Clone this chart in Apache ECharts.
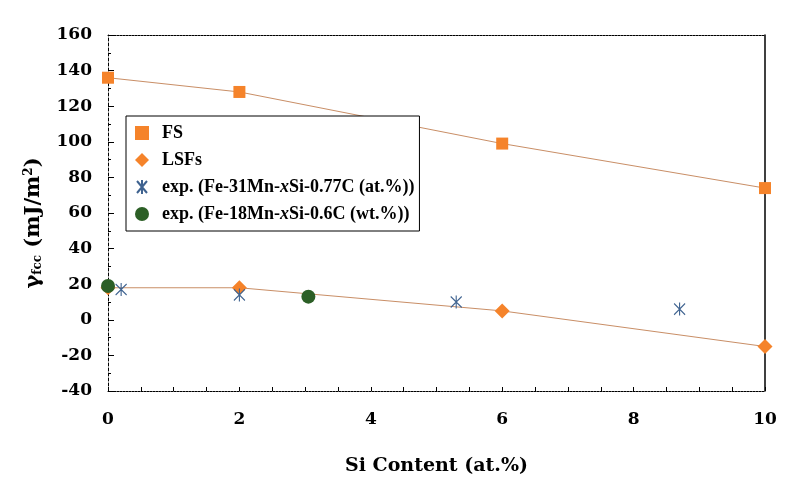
<!DOCTYPE html>
<html>
<head>
<meta charset="utf-8">
<script src="https://cdn.jsdelivr.net/npm/echarts@6/dist/echarts.min.js"></script>
<style>html,body{margin:0;padding:0;background:#fff}#c{width:787px;height:485px}</style>
</head>
<body>
<div id="c"></div>
<script>
const fsX = [0, 2, 6, 10];
const fsY = [136, 128, 99, 74];
const lsfX = [0, 2, 6, 10];
const lsfY = [18, 18, 5, -15];
const exp1X = [0.2, 2, 5.3, 8.7];
const exp1Y = [17, 14, 10, 6];
const exp2X = [0, 3.05];
const exp2Y = [19, 13];
const seriesNames = ['FS', 'LSFs', 'exp. (Fe-31Mn-xSi-0.77C (at.%))', 'exp. (Fe-18Mn-xSi-0.6C (wt.%))'];

const zip = (xs, ys) => xs.map((x, i) => [x, ys[i]]);
const font = '"Liberation Serif", "Times New Roman", serif';
const wide = '"DejaVu Serif", serif';
const star = 'path://M0,0 L10,12 M10,0 L0,12 M5,-1 L5,13';
const diamond = 'path://M5,0 L10,5 L5,10 L0,5 Z';

const chart = echarts.init(document.getElementById('c'));
chart.setOption({
  animation: false,
  backgroundColor: '#fff',
  grid: {left: 108, right: 22, top: 35, bottom: 94},
  legend: {
    orient: 'vertical', left: 126, top: 116,
    padding: [8, 5, 8, 9], itemGap: 9, itemWidth: 14, itemHeight: 14,
    borderColor: '#000', borderWidth: 1,
    backgroundColor: '#fff',
    textStyle: {fontFamily: font, fontWeight: 'bold', fontSize: 18, color: '#000', padding: [0, 0, 0, 8],
      rich: {i: {fontFamily: font, fontWeight: 'bold', fontStyle: 'italic', fontSize: 18, color: '#000'}}},
    formatter: n => n.replace('-xSi', '-{i|x}Si'),
    data: [
      {name: seriesNames[0], icon: 'rect'},
      {name: seriesNames[1], icon: diamond},
      {name: seriesNames[2], icon: star},
      {name: seriesNames[3], icon: 'circle'}
    ]
  },
  xAxis: [{
    type: 'value', min: 0, max: 10, interval: 2,
    name: 'Si Content (at.%)', nameLocation: 'middle', nameGap: 66,
    nameTextStyle: {fontFamily: wide, fontWeight: 'bold', fontSize: 19, color: '#000'},
    axisLine: {onZero: false, lineStyle: {color: '#000', width: 1, type: [2, 1]}},
    axisTick: {inside: true, length: 4, lineStyle: {color: '#000'}},
    minorTick: {show: true, splitNumber: 4, length: 4, lineStyle: {color: '#000'}},
    axisLabel: {margin: 20, fontFamily: wide, fontWeight: 'bold', fontSize: 17, color: '#000'},
    splitLine: {show: false}
  }, {
    type: 'value', min: 0, max: 10, position: 'top',
    axisLine: {show: true, onZero: false, lineStyle: {color: '#000', width: 1, type: [2, 1]}},
    axisTick: {show: false}, axisLabel: {show: false}, splitLine: {show: false}
  }],
  yAxis: [{
    type: 'value', min: -40, max: 160, interval: 20,
    name: 'γ{sub|fcc} (mJ/m{sup|2})', nameLocation: 'middle', nameGap: 64,
    nameTextStyle: {fontFamily: wide, fontWeight: 'bold', fontSize: 21, color: '#000', padding: [0, 20, 0, 0],
      rich: {
        sub: {fontFamily: wide, fontWeight: 'bold', fontSize: 12, verticalAlign: 'bottom', color: '#000', padding: [9, 0, 0, 0]},
        sup: {fontFamily: wide, fontWeight: 'bold', fontSize: 12, verticalAlign: 'top', color: '#000', padding: [0, 0, 9, 0]}
      }},
    axisLine: {show: true, onZero: false, lineStyle: {color: '#000', width: 1, type: [3, 2]}},
    axisTick: {inside: true, length: 6, lineStyle: {color: '#000'}},
    minorTick: {show: true, splitNumber: 2, length: 3, lineStyle: {color: '#000'}},
    axisLabel: {margin: 16, fontFamily: wide, fontWeight: 'bold', fontSize: 17, color: '#000'},
    splitLine: {show: false}
  }, {
    type: 'value', min: -40, max: 160, position: 'right',
    axisLine: {show: true, onZero: false, lineStyle: {color: '#000', width: 1.5}},
    axisTick: {show: false}, axisLabel: {show: false}, splitLine: {show: false}
  }],
  series: [
    {name: seriesNames[0], type: 'line', data: zip(fsX, fsY), symbol: 'rect', symbolSize: 12,
      clip: false, z: 3,
      itemStyle: {color: '#F5832A', opacity: 1}, lineStyle: {color: '#C98E66', width: 1}},
    {name: seriesNames[1], type: 'line', data: zip(lsfX, lsfY), symbol: diamond, symbolSize: 15,
      clip: false, z: 3,
      itemStyle: {color: '#F5832A', opacity: 1}, lineStyle: {color: '#C98E66', width: 1}},
    {name: seriesNames[2], type: 'scatter', data: zip(exp1X, exp1Y), symbol: star, symbolSize: [11, 13],
      clip: false, z: 4,
      itemStyle: {color: 'transparent', borderColor: '#3F6390', borderWidth: 1.2, opacity: 1}},
    {name: seriesNames[3], type: 'scatter', data: zip(exp2X, exp2Y), symbol: 'circle', symbolSize: 14,
      clip: false, z: 5,
      itemStyle: {color: '#2C5F26', opacity: 1}}
  ]
});
</script>
</body>
</html>
